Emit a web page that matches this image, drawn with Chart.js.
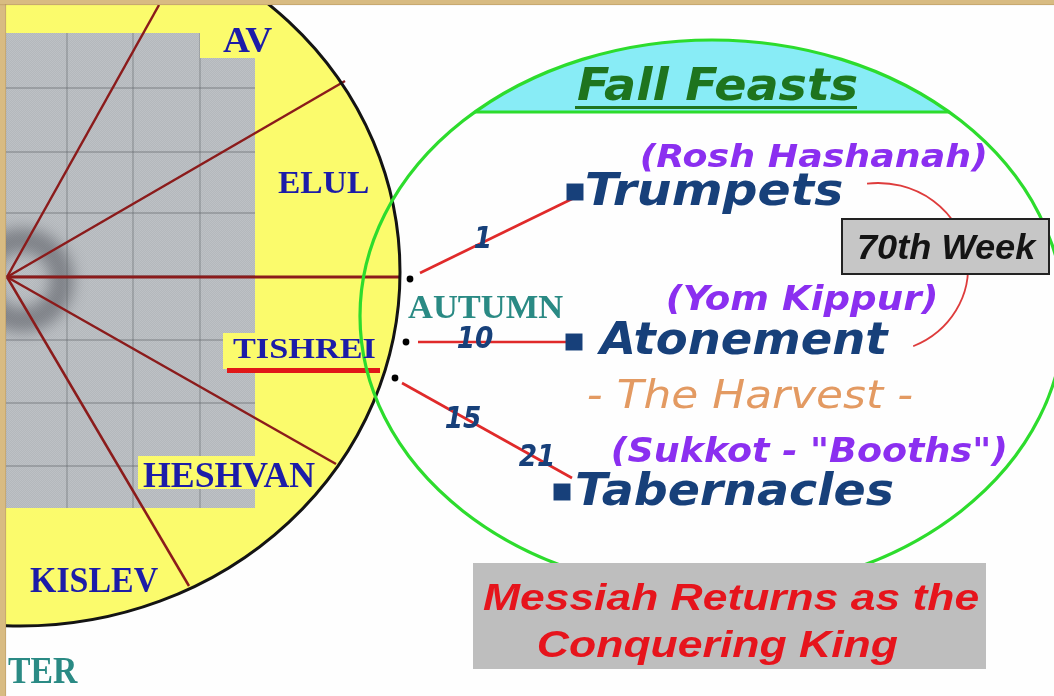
<!DOCTYPE html>
<html><head><meta charset="utf-8">
<script src="https://cdn.jsdelivr.net/npm/chart.js@4"></script>
<style>html,body{margin:0;padding:0;background:#fefefe;overflow:hidden}#wrap{width:1054px;height:696px;position:relative}canvas{display:block}</style>
</head><body><div id="wrap"><canvas id="c" width="1054" height="696"></canvas></div>
<script>
// ---------- data (labels and values) ----------
const months = ['AV', 'ELUL', 'TISHREI', 'HESHVAN', 'KISLEV'];
const seasons = ['AUTUMN', 'TER'];
const feasts = ['Trumpets', 'Atonement', 'Tabernacles'];
const feastHebrew = ['(Rosh Hashanah)', '(Yom Kippur)', '(Sukkot - "Booths")'];
const feastDays = ['1', '10', '15', '21'];
const titleText = 'Fall Feasts';
const harvestText = '- The Harvest -';
const weekText = '70th Week';
const messiahLines = ['Messiah Returns as the', 'Conquering King'];

// ---------- layout (positions in the 1054 x 696 frame) ----------
const LAYOUT = {
  hub: {x: 7, y: 277},
  spokeEnds: [{x: 159, y: 5}, {x: 345, y: 81}, {x: 400, y: 277}, {x: 336, y: 464}, {x: 189, y: 586}],
  moon: {cx: 20, cy: 272, rx: 380, ry: 354},
  feastEllipse: {cx: 712, cy: 316, rx: 352, ry: 276},
  capLineY: 112,
  dots: [{x: 410, y: 279}, {x: 406, y: 342}, {x: 395, y: 378}],
  connectors: [
    [{x: 420, y: 273}, {x: 578, y: 196}],
    [{x: 418, y: 342}, {x: 567, y: 342}],
    [{x: 402, y: 383}, {x: 572, y: 478}]
  ],
  bullets: [{x: 575, y: 192}, {x: 574, y: 342}, {x: 562, y: 492}],
  dayPos: [{x: 483, y: 240}, {x: 475, y: 340}, {x: 463, y: 420}, {x: 537, y: 458}],
  monthText: [
    {x0: 223, x1: 272, base: 52, cap: 24},
    {x0: 278, x1: 368, base: 193, cap: 21},
    {x0: 233, x1: 375, base: 358, cap: 20},
    {x0: 143, x1: 315, base: 487, cap: 24},
    {x0: 30, x1: 158, base: 592, cap: 24}
  ],
  seasonText: [
    {x0: 408, x1: 563, base: 318, cap: 23},
    {x0: 8, x1: 78, base: 683, cap: 25}
  ],
  feastText: [
    {x0: 587, x1: 842, base: 205, cap: 32},
    {x0: 597, x1: 890, base: 354, cap: 33},
    {x0: 577, x1: 893, base: 505, cap: 33}
  ],
  hebrewText: [
    {x0: 642, x1: 985, base: 167, cap: 23},
    {x0: 668, x1: 935, base: 310, cap: 24},
    {x0: 613, x1: 1005, base: 462, cap: 25}
  ],
  title: {x0: 577, x1: 857, base: 100, cap: 33, ul: 106},
  harvest: {x0: 588, x1: 912, base: 408, cap: 28},
  weekBox: {x0: 842, y0: 219, x1: 1049, y1: 274},
  week: {x0: 859, x1: 1037, base: 259, cap: 25},
  curve: {cx: 878, cy: 268, rx: 90, ry: 85, a0: -97, a1: 67},
  messiahBox: {x0: 473, y0: 563, x1: 986, y1: 669},
  messiah: [
    {x0: 483, x1: 978, base: 610, cap: 27},
    {x0: 538, x1: 898, base: 657, cap: 27}
  ],
  photo: [{x: 6, y: 33}, {x: 200, y: 33}, {x: 200, y: 58}, {x: 255, y: 58}, {x: 255, y: 508}, {x: 6, y: 508}],
  gridX: [67, 133, 200],
  gridY: [88, 152, 213, 276, 340, 403, 466],
  labelPatches: [
    {x0: 223, y0: 333, x1: 256, y1: 369},
    {x0: 138, y0: 456, x1: 256, y1: 489}
  ],
  underline: {x0: 227, y0: 368, x1: 380, y1: 373}
};

const COLORS = {
  tan: '#d8bb82', yellow: '#fbfb6c', photo: '#b6babe', grid: 'rgba(95,100,105,0.45)',
  spoke: '#8b1b1b', rim: '#141414', green: '#2ddc2d', cap: '#88ecf6',
  connector: '#e02a2a', navy: '#17407a', month: '#1c1ca8', teal: '#2a8a84',
  purple: '#8b2ff0', orange: '#e39a62', titleGreen: '#1e741e', curve: '#de3c3c',
  red: '#e6141c'
};

const SANS = '"DejaVu Sans"';
const ARIAL = '"Liberation Sans"';
const SERIF = '"Liberation Serif"';

function makeDrawer(chart) {
  const X = v => chart.scales.x.getPixelForValue(v);
  const Y = v => chart.scales.y.getPixelForValue(v);
  const ctx = chart.ctx;
  function fitText(str, spec, family, style, color, capRatio) {
    const size = spec.cap / capRatio;
    ctx.save();
    ctx.font = style + ' ' + size.toFixed(2) + 'px ' + family;
    ctx.textBaseline = 'alphabetic';
    ctx.textAlign = 'left';
    const m = ctx.measureText(str);
    const w = m.actualBoundingBoxRight + m.actualBoundingBoxLeft;
    const sx = (X(spec.x1) - X(spec.x0)) / w;
    ctx.translate(X(spec.x0), Y(spec.base));
    ctx.scale(sx, 1);
    ctx.fillStyle = color;
    ctx.fillText(str, m.actualBoundingBoxLeft, 0);
    ctx.restore();
  }
  function ellipsePath(e) {
    ctx.beginPath();
    ctx.ellipse(X(e.cx), Y(e.cy), X(e.cx + e.rx) - X(e.cx), Y(e.cy + e.ry) - Y(e.cy), 0, 0, Math.PI * 2);
  }
  function rect(r) {
    return [X(r.x0), Y(r.y0), X(r.x1) - X(r.x0), Y(r.y1) - Y(r.y0)];
  }
  return {X, Y, ctx, fitText, ellipsePath, rect};
}

const backPlugin = {
  id: 'back',
  beforeDatasetsDraw(chart) {
    const {X, Y, ctx, ellipsePath, rect} = makeDrawer(chart);
    ctx.save();
    ctx.fillStyle = '#fefefe';
    ctx.fillRect(0, 0, X(1054), Y(696));
    // yellow moon
    ctx.save();
    ctx.beginPath(); ctx.rect(X(6), Y(5), X(1054) - X(6), Y(696) - Y(5)); ctx.clip();
    ellipsePath(LAYOUT.moon);
    ctx.fillStyle = COLORS.yellow; ctx.fill();
    ctx.restore();
    // photo region
    const p = LAYOUT.photo;
    ctx.beginPath();
    ctx.moveTo(X(p[0].x), Y(p[0].y));
    for (let i = 1; i < p.length; i++) ctx.lineTo(X(p[i].x), Y(p[i].y));
    ctx.closePath();
    const pc = document.createElement('canvas'); pc.width = 2; pc.height = 2;
    const pcx = pc.getContext('2d');
    pcx.fillStyle = '#b4b8bc'; pcx.fillRect(0, 0, 2, 2);
    pcx.fillStyle = '#bdc1c5'; pcx.fillRect(0, 0, 1, 1); pcx.fillRect(1, 1, 1, 1);
    ctx.fillStyle = ctx.createPattern(pc, 'repeat');
    ctx.fill();
    ctx.save();
    ctx.clip();
    // dark blob near the hub
    ctx.filter = 'blur(7px)';
    ctx.strokeStyle = 'rgba(60,62,70,0.45)';
    ctx.lineWidth = 24;
    ctx.beginPath(); ctx.arc(X(22), Y(280), 40, 0, Math.PI * 2); ctx.stroke();
    ctx.filter = 'none';
    // grid
    ctx.strokeStyle = COLORS.grid; ctx.lineWidth = 1.3;
    LAYOUT.gridX.forEach(gx => { ctx.beginPath(); ctx.moveTo(X(gx), Y(33)); ctx.lineTo(X(gx), Y(508)); ctx.stroke(); });
    LAYOUT.gridY.forEach(gy => { ctx.beginPath(); ctx.moveTo(X(6), Y(gy)); ctx.lineTo(X(255), Y(gy)); ctx.stroke(); });
    ctx.restore();
    // yellow label patches
    ctx.fillStyle = COLORS.yellow;
    LAYOUT.labelPatches.forEach(r => ctx.fillRect(...rect(r)));
    // red underline of TISHREI
    ctx.fillStyle = '#e01818';
    ctx.fillRect(...rect(LAYOUT.underline));
    // messiah box
    ctx.fillStyle = '#bebebe';
    ctx.fillRect(...rect(LAYOUT.messiahBox));
    ctx.restore();
  },
  afterDatasetsDraw(chart) {
    const {X, Y, ctx, fitText, ellipsePath, rect} = makeDrawer(chart);
    ctx.save();
    // rim of the moon
    ctx.save();
    ctx.beginPath(); ctx.rect(X(6), Y(5), X(1054) - X(6), Y(696) - Y(5)); ctx.clip();
    ellipsePath(LAYOUT.moon);
    ctx.strokeStyle = COLORS.rim; ctx.lineWidth = 3; ctx.stroke();
    ctx.restore();
    // feast ellipse cap
    ctx.save();
    ellipsePath(LAYOUT.feastEllipse); ctx.clip();
    ctx.fillStyle = COLORS.cap;
    ctx.fillRect(X(300), Y(0), X(1054) - X(300), Y(LAYOUT.capLineY) - Y(0));
    ctx.restore();
    // feast ellipse outline
    ctx.save();
    ctx.beginPath(); ctx.rect(0, 0, X(1054), Y(LAYOUT.messiahBox.y0)); ctx.clip();
    ellipsePath(LAYOUT.feastEllipse);
    ctx.strokeStyle = COLORS.green; ctx.lineWidth = 3.2; ctx.stroke();
    ctx.restore();
    // cap line
    const fe = LAYOUT.feastEllipse;
    const dy = (LAYOUT.capLineY - fe.cy) / fe.ry;
    const dx = fe.rx * Math.sqrt(1 - dy * dy);
    ctx.strokeStyle = COLORS.green; ctx.lineWidth = 3.2;
    ctx.beginPath(); ctx.moveTo(X(fe.cx - dx), Y(LAYOUT.capLineY)); ctx.lineTo(X(fe.cx + dx), Y(LAYOUT.capLineY)); ctx.stroke();

    // months
    months.forEach((m, i) => fitText(m, LAYOUT.monthText[i], SERIF, 'bold', COLORS.month, 0.662));
    seasons.forEach((s, i) => fitText(s, LAYOUT.seasonText[i], SERIF, 'bold', COLORS.teal, 0.662));

    // title
    const t = LAYOUT.title;
    fitText(titleText, t, SANS, 'italic bold', COLORS.titleGreen, 0.729);
    ctx.fillStyle = COLORS.titleGreen;
    ctx.fillRect(X(t.x0 - 2), Y(t.ul), X(t.x1) - X(t.x0 - 2), 3);

    // curve linking Trumpets and Atonement
    const c = LAYOUT.curve;
    ctx.strokeStyle = COLORS.curve; ctx.lineWidth = 1.8;
    ctx.beginPath();
    ctx.ellipse(X(c.cx), Y(c.cy), X(c.cx + c.rx) - X(c.cx), Y(c.cy + c.ry) - Y(c.cy), 0, c.a0 * Math.PI / 180, c.a1 * Math.PI / 180);
    ctx.stroke();
    // week box
    const wb = rect(LAYOUT.weekBox);
    ctx.fillStyle = '#c6c6c6'; ctx.fillRect(...wb);
    ctx.strokeStyle = '#222'; ctx.lineWidth = 2; ctx.strokeRect(...wb);
    fitText(weekText, LAYOUT.week, ARIAL, 'italic bold', '#141414', 0.716);

    // feasts
    feasts.forEach((f, i) => fitText(f, LAYOUT.feastText[i], SANS, 'italic bold', COLORS.navy, 0.729));
    feastHebrew.forEach((f, i) => fitText(f, LAYOUT.hebrewText[i], SANS, 'italic bold', COLORS.purple, 0.729));
    fitText(harvestText, LAYOUT.harvest, SANS, 'italic', COLORS.orange, 0.729);

    // day numbers
    ctx.fillStyle = COLORS.navy;
    ctx.font = 'italic bold 30px ' + SANS;
    ctx.textAlign = 'center'; ctx.textBaseline = 'middle';
    feastDays.forEach((d, i) => {
      const p = LAYOUT.dayPos[i];
      ctx.save(); ctx.translate(X(p.x), Y(p.y)); ctx.scale(0.88, 1); ctx.fillText(d, 0, 0); ctx.restore();
    });

    // messiah
    messiahLines.forEach((m, i) => fitText(m, LAYOUT.messiah[i], ARIAL, 'italic bold', COLORS.red, 0.716));

    // frame
    ctx.fillStyle = COLORS.tan;
    ctx.fillRect(0, 0, X(1054), Y(5));
    ctx.fillRect(0, 0, X(6), Y(696));
    ctx.fillStyle = 'rgba(150,115,60,0.25)';
    ctx.fillRect(0, Y(4), X(1054), 1.2);
    ctx.fillRect(X(5), Y(4), 1.2, Y(696));
    ctx.restore();
  }
};

const datasets = [];
LAYOUT.connectors.forEach(seg => datasets.push({
  type: 'line', data: seg, borderColor: COLORS.connector, borderWidth: 2.6,
  pointRadius: 0, showLine: true, fill: false, order: 2
}));
datasets.push({
  type: 'scatter', data: LAYOUT.dots, backgroundColor: '#000', borderColor: '#000',
  pointRadius: 3.4, pointBorderWidth: 0, order: 1
});
datasets.push({
  type: 'scatter', data: LAYOUT.bullets, backgroundColor: COLORS.navy, borderColor: COLORS.navy,
  pointStyle: 'rect', pointRadius: 12, pointBorderWidth: 0, order: 1
});
LAYOUT.spokeEnds.forEach((end, i) => datasets.push({
  type: 'line', data: [LAYOUT.hub, end], borderColor: COLORS.spoke, borderWidth: i === 2 ? 3 : 2.5,
  pointRadius: 0, showLine: true, fill: false, order: 3
}));

const chart = new Chart(document.getElementById('c'), {
  type: 'scatter',
  data: {datasets},
  options: {
    responsive: false, animation: false, events: [],
    layout: {padding: 0, autoPadding: false},
    scales: {
      x: {type: 'linear', min: 0, max: 1054, display: false},
      y: {type: 'linear', min: 0, max: 696, reverse: true, display: false}
    },
    plugins: {legend: {display: false}, tooltip: {enabled: false}, title: {display: false}}
  },
  plugins: [backPlugin]
});
</script>
</body></html>
